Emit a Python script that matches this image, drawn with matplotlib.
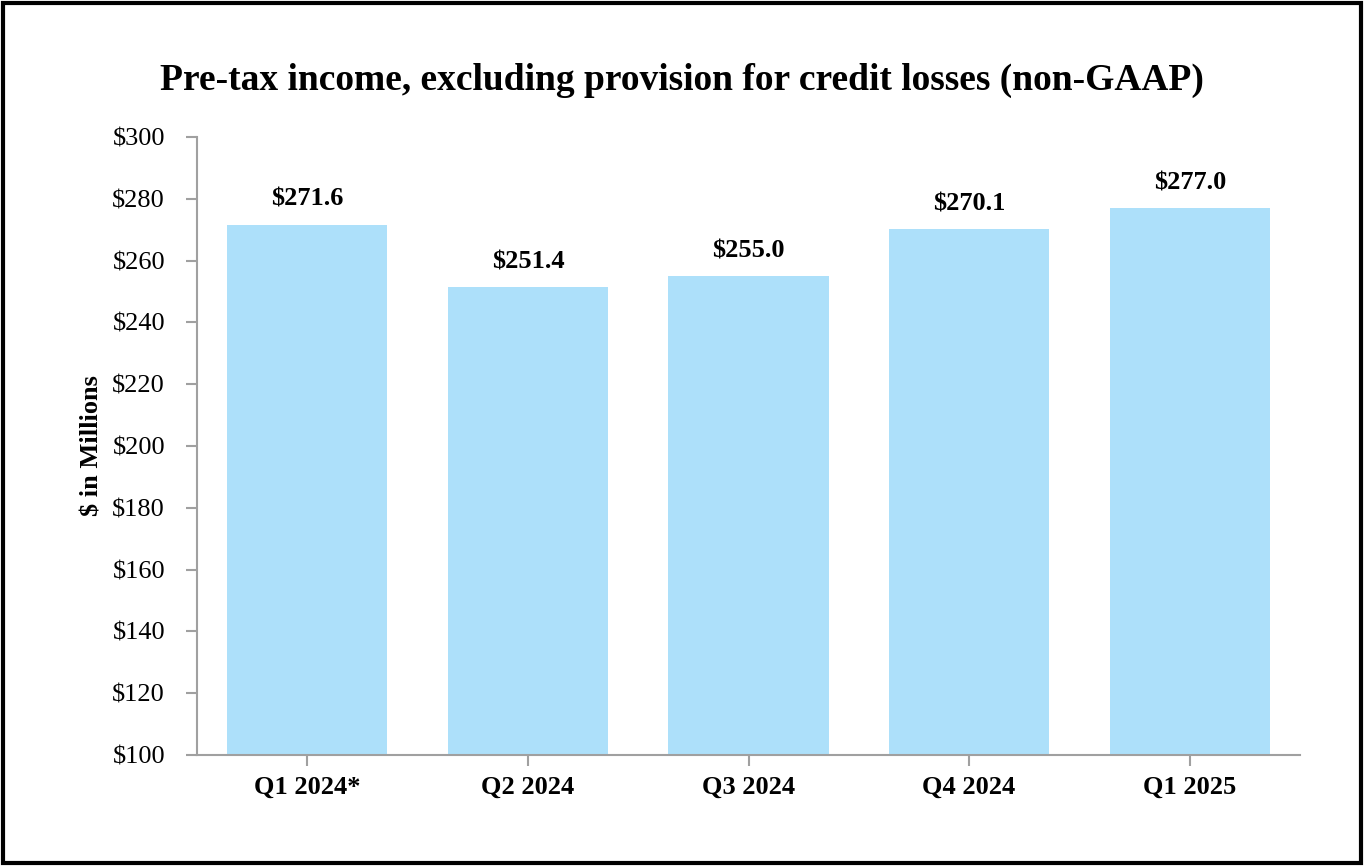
import matplotlib
matplotlib.use("Agg")
import matplotlib.pyplot as plt
from matplotlib.patches import Rectangle

categories = ["Q1 2024*", "Q2 2024", "Q3 2024", "Q4 2024", "Q1 2025"]
values = [271.6, 251.4, 255.0, 270.1, 277.0]
value_labels = ["$271.6", "$251.4", "$255.0", "$270.1", "$277.0"]
yticks = [100, 120, 140, 160, 180, 200, 220, 240, 260, 280, 300]
ytick_labels = ["$" + str(v) for v in yticks]

plt.rcParams["font.family"] = ["Liberation Serif", "DejaVu Serif"]

fig = plt.figure(figsize=(13.64, 8.66), dpi=100)
ax = fig.add_axes([197/1364, 1-755/866, (1300-197)/1364, (755-137)/866])

bar_color = "#ADE0FA"
spine_color = "#A0A0A0"
x = list(range(len(categories)))
bars = ax.bar(x, values, width=0.726, color=bar_color, bottom=0)

ax.set_ylim(100, 300)
ax.set_xlim(-0.5, len(categories) - 0.5)
ax.set_yticks(yticks)
ax.set_yticklabels(ytick_labels, fontsize=19)
ax.set_xticks(x)
ax.set_xticklabels(categories, fontsize=19, fontweight="bold")

for s in ["top", "right"]:
    ax.spines[s].set_visible(False)
for s in ["left", "bottom"]:
    ax.spines[s].set_color(spine_color)
    ax.spines[s].set_linewidth(1.5)
ax.tick_params(axis="y", length=8, width=1.5, color=spine_color, pad=15)
ax.tick_params(axis="x", length=8, width=1.5, color=spine_color, pad=7)

for xi, v, lab in zip(x, values, value_labels):
    ax.annotate(lab, (xi, v), xytext=(0, 10), textcoords="offset points",
                ha="center", va="bottom", fontsize=19, fontweight="bold")

ax.set_ylabel("$ in Millions", fontsize=19, fontweight="bold", labelpad=6)

fig.text(0.5, 1-80/866, "Pre-tax income, excluding provision for credit losses (non-GAAP)",
         ha="center", va="center", fontsize=27, fontweight="bold")

fig.patches.append(Rectangle((3/1364, 3/866), 1-6/1364, 1-6/866, transform=fig.transFigure,
                             fill=False, edgecolor="black", linewidth=3))

fig.savefig("out.png", dpi=100)
